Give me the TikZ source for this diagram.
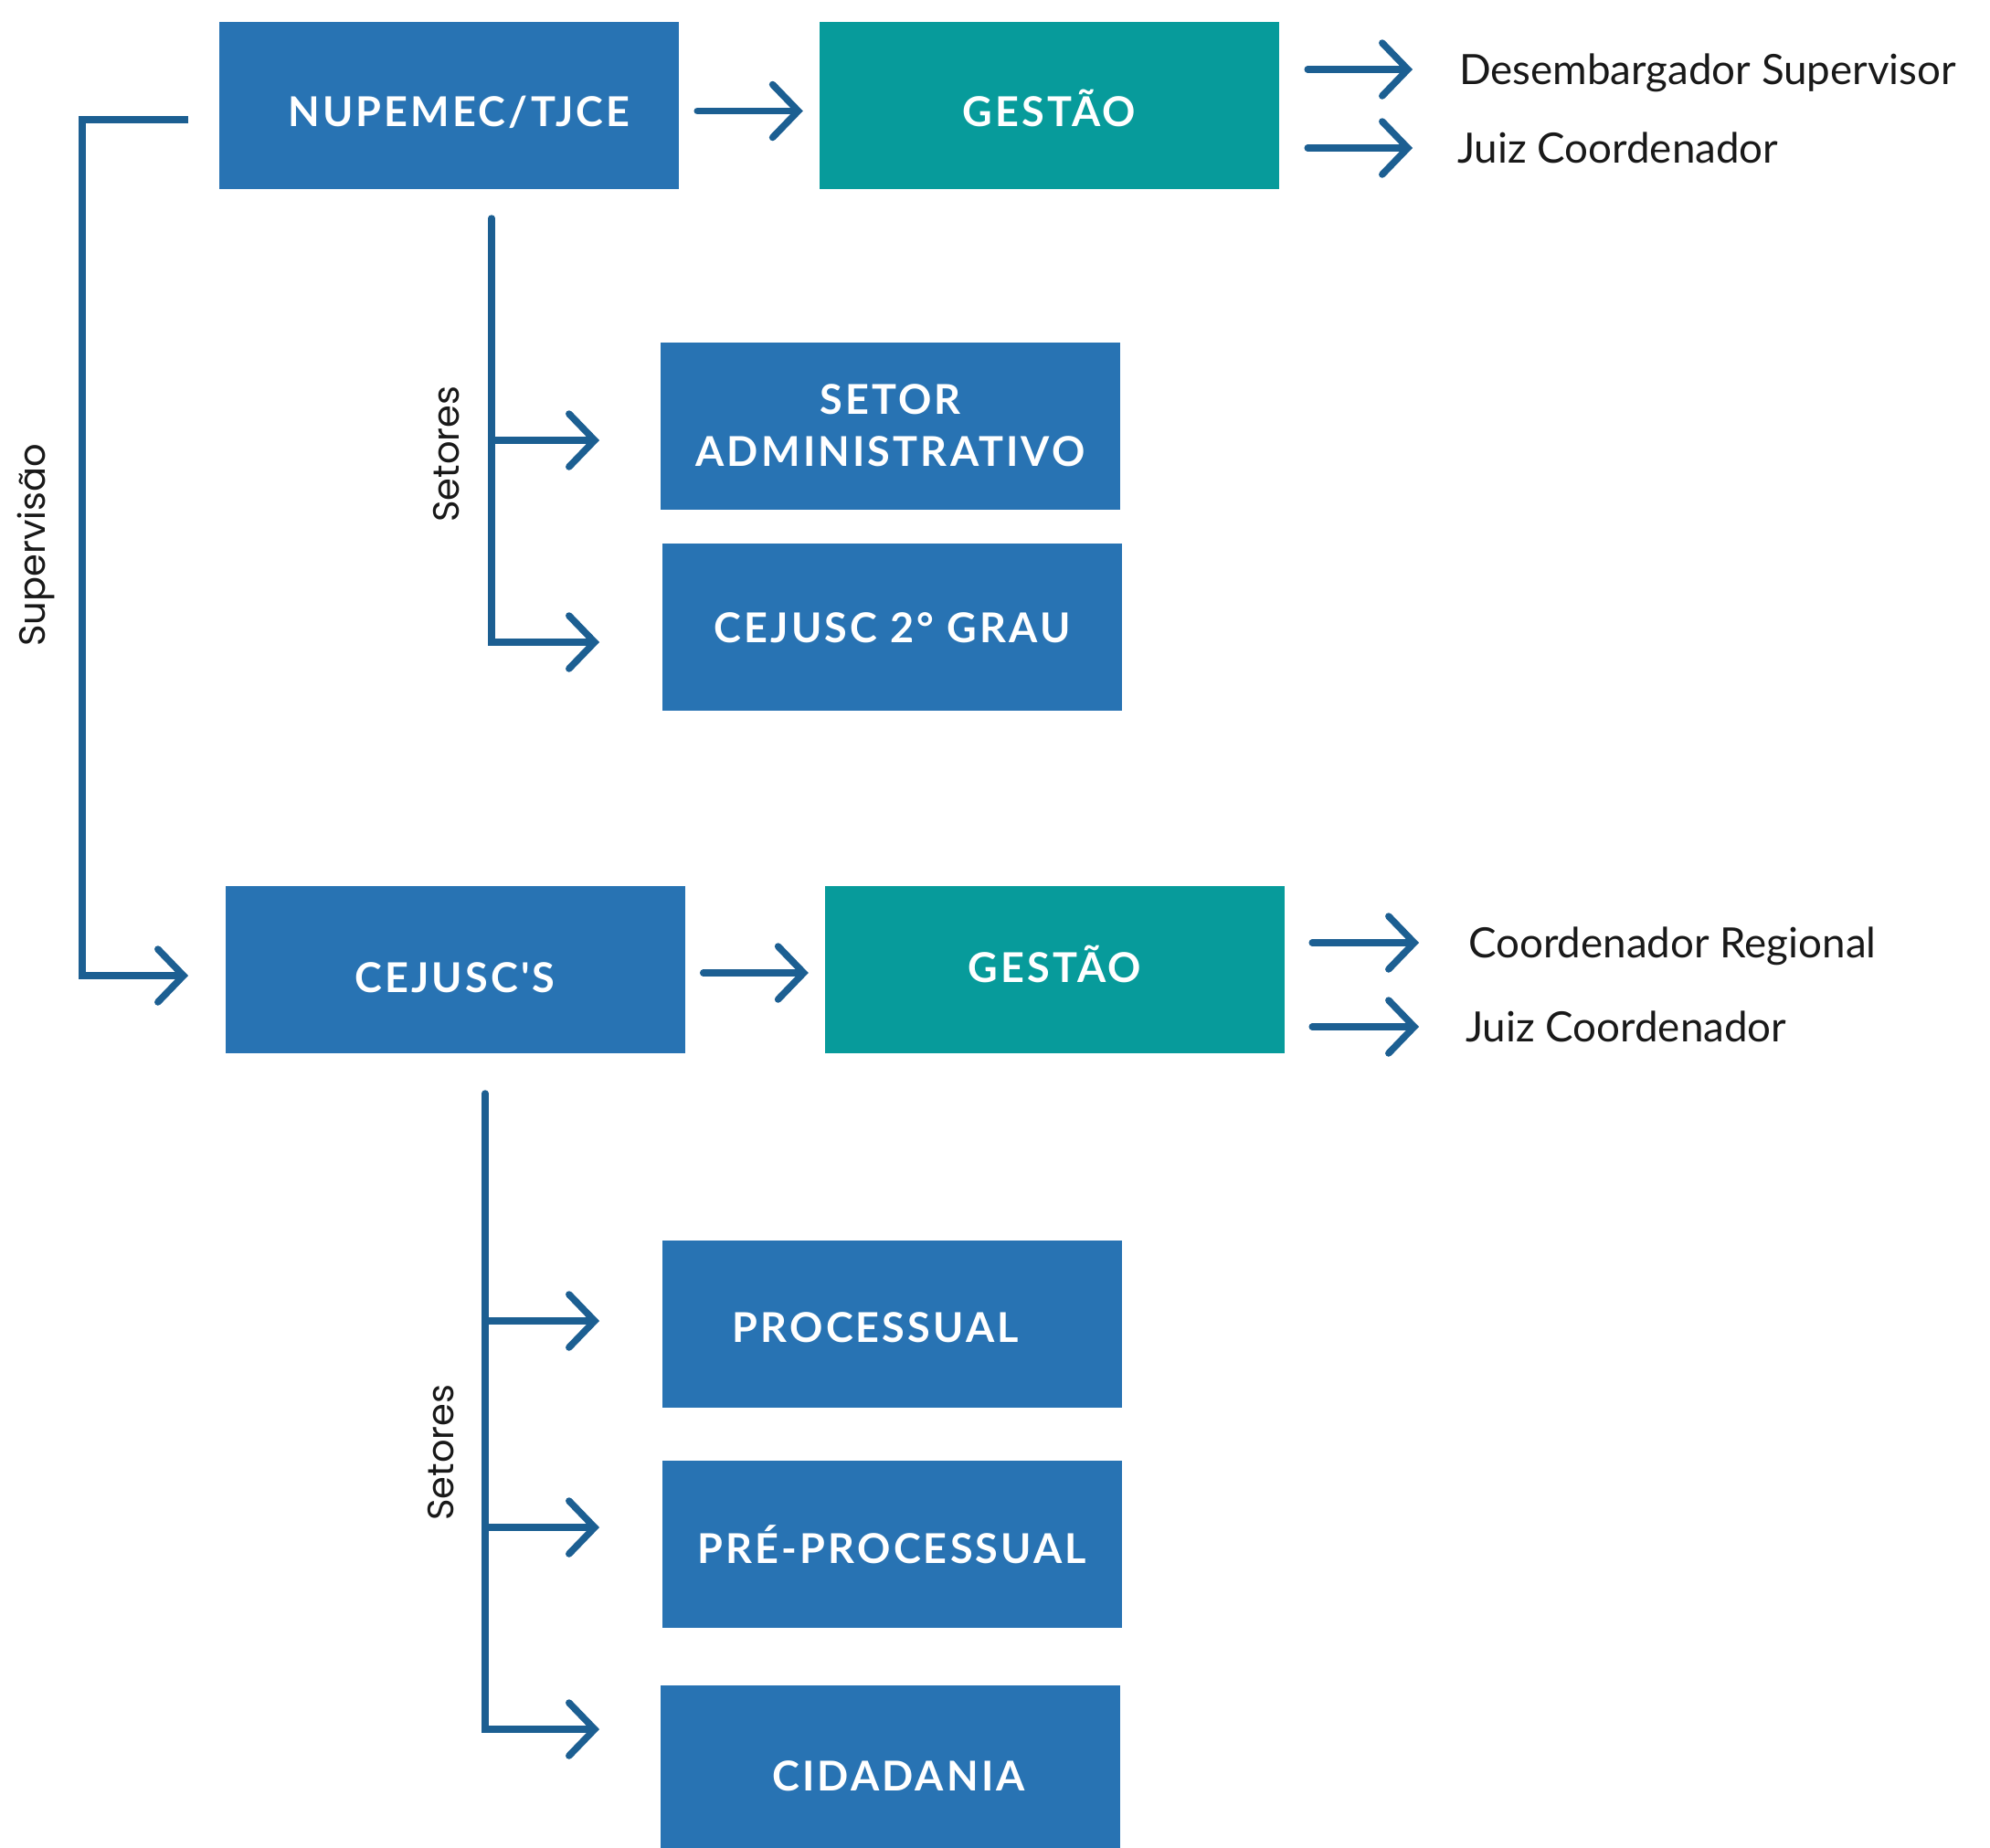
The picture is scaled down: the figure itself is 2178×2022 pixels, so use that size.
\documentclass[tikz,border=0pt]{standalone}
\usepackage{fontspec}
\setmainfont{Lato}
\newfontfamily\boxfont[LetterSpace=7]{Lato}
\newfontfamily\sidefont{Poppins}
\usetikzlibrary{arrows.meta}
\definecolor{boxblue}{HTML}{2873B3}
\definecolor{boxteal}{HTML}{079B9B}
\definecolor{linecol}{HTML}{1C5F92}
\begin{document}
\begin{tikzpicture}[x=1pt,y=-1pt,
  bluebox/.style={fill=boxblue,draw=none,minimum width=503pt,minimum height=183pt,inner sep=0pt,
    text=white,font=\boxfont\bfseries\fontsize{45}{57}\selectfont,align=center},
  tealbox/.style={bluebox,fill=boxteal},
  th/.style={text height=#1,text depth=0pt},
  line/.style={draw=linecol,line width=7.5pt,line cap=round},
  arr/.style={line,-{Straight Barb[length=28pt,width=58pt,line cap=round]}},
  role/.style={anchor=west,inner sep=0pt,text height=33pt,text depth=0pt,font=\fontsize{45.7}{52}\selectfont,text=black!90},
  side/.style={rotate=90,inner sep=0pt,font=\sidefont\fontsize{40}{44}\selectfont,text=black!90}
]
\useasboundingbox (0,0) rectangle (2178,2022);
\fill[white] (0,0) rectangle (2178,2022);

% top row
\node[bluebox,th=45pt] (n1) at (491.5,115.5) {\hspace*{22pt}NUPEMEC/TJCE};
\node[tealbox,th=45pt] (g1) at (1148.5,115.5) {GESTÃO};
\node[role] (d1) at (1597,76) {Desembargador Supervisor};
\node[role] (j1) at (1595,162) {Juiz Coordenador};

\draw[arr,shorten <=20pt,shorten >=18pt] ([yshift=-6pt]n1.east) -- ([yshift=-6pt]g1.west);
\draw[arr,shorten <=31pt,shorten >=51pt] (g1.east |- d1.west) -- (d1.west);
\draw[arr,shorten <=31pt,shorten >=49pt] (g1.east |- j1.west) -- (j1.west);

% sectors of NUPEMEC
\node[bluebox] (sa) at (974.5,466) {SETOR\\ADMINISTRATIVO};
\node[bluebox,th=35pt] (cg) at (976.5,686) {CEJUSC 2° GRAU};
\coordinate (t1) at (538,239);
\coordinate (t1a) at (538,482);
\coordinate (t1b) at (538,703);
\coordinate (a1) at (656,482);
\coordinate (a2) at (656,703);
\draw[line] (t1) -- (t1a);
\draw[arr] (t1a) -- (a1);
\draw[arr] (t1a) -- (t1b) -- (a2);
\node[side] (set1) at (489,497) {Setores};

% supervision bracket
\node[bluebox,th=51pt] (c1) at (498,1061) {CEJUSC'S};
\coordinate (s1) at (206,131);
\coordinate (s2) at (90,131);
\coordinate (s3) at (90,1068);
\coordinate (s4) at (206,1068);
\draw[arr,line cap=butt] (s1) -- (s2) -- (s3) -- (s4);
\node[side] (sup) at (39,597) {Supervisão};

% bottom row
\node[tealbox,th=29pt] (g2) at (1154.5,1061) {GESTÃO};
\node[role] (cr) at (1607,1032) {Coordenador Regional};
\node[role] (j2) at (1604,1124) {Juiz Coordenador};
\draw[arr,shorten <=20pt,shorten >=18pt] ([yshift=-4pt]c1.east) -- ([yshift=-4pt]g2.west);
\draw[arr,shorten <=30pt,shorten >=54pt] (g2.east |- cr.west) -- (cr.west);
\draw[arr,shorten <=30pt,shorten >=51pt] (g2.east |- j2.west) -- (j2.west);

% sectors of CEJUSC'S
\node[bluebox,th=41pt] (pr) at (976.5,1449) {\hspace*{-36pt}PROCESSUAL};
\node[bluebox,th=41pt] (pp) at (976.5,1690.5) {PRÉ-PROCESSUAL};
\node[bluebox,th=30pt,minimum height=200pt] (ci) at (974.5,1945) {\hspace*{18pt}CIDADANIA};
\coordinate (t2) at (531,1197);
\coordinate (t2a) at (531,1446);
\coordinate (t2b) at (531,1672);
\coordinate (t2c) at (531,1893);
\coordinate (b1) at (656,1446);
\coordinate (b2) at (656,1672);
\coordinate (b3) at (656,1893);
\draw[line] (t2) -- (t2b);
\draw[arr] (t2a) -- (b1);
\draw[arr] (t2b) -- (b2);
\draw[arr] (t2b) -- (t2c) -- (b3);
\node[side] (set2) at (483,1590) {Setores};
\end{tikzpicture}
\end{document}
